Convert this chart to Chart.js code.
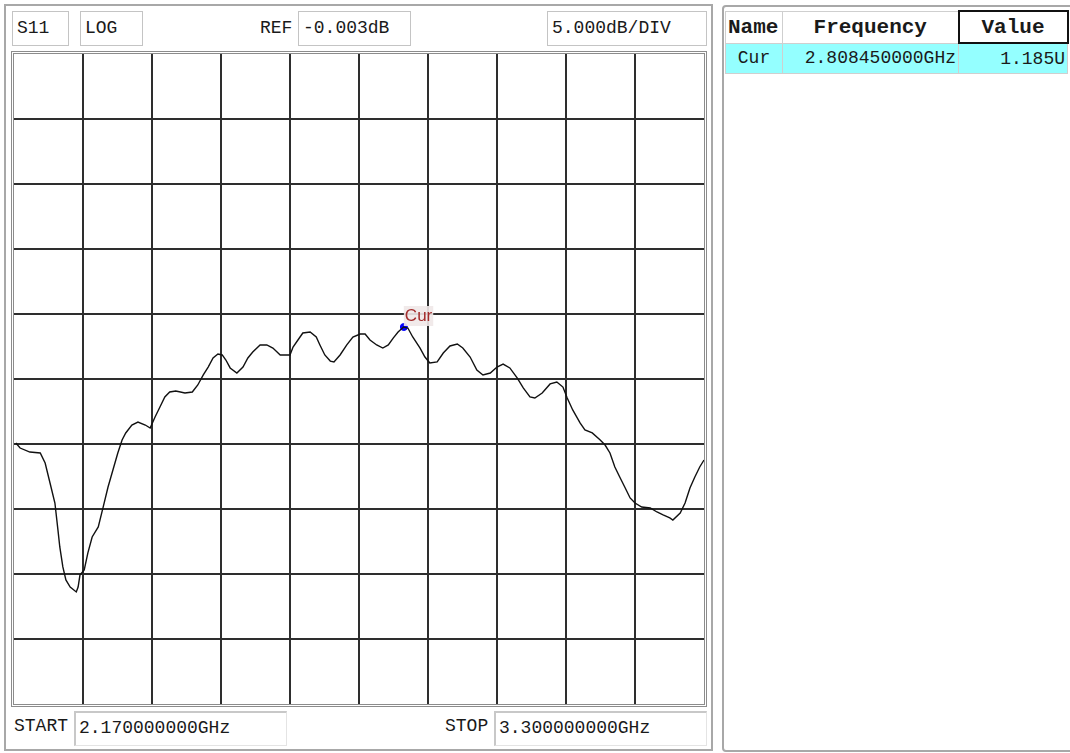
<!DOCTYPE html>
<html lang="en">
<head>
    <meta charset="UTF-8">
    <title>S11 LOG</title>
    <script src="https://cdn.jsdelivr.net/npm/chart.js"></script>
    <style>
        body {
            margin: 0;
            width: 1070px;
            height: 753px;
            position: relative;
            background: #fff;
            font-family: "Liberation Mono", monospace;
            color: #1a1a1a;
            overflow: hidden;
        }
        .abs { position: absolute; }
        .panel {
            left: 4px; top: 4px; width: 709px; height: 747px;
            border: 2px solid #a8a8a8;
            box-sizing: border-box;
        }
        .rpanel {
            left: 722px; top: 5px; width: 360px; height: 747px;
            border: 2px solid #a8a8a8;
            border-radius: 4px;
            box-sizing: border-box;
        }
        .box {
            border: 1px solid #c4c4c4;
            box-sizing: border-box;
            font-size: 18px;
            line-height: 33px;
            padding-left: 4px;
            white-space: nowrap;
        }
        .inbox {
            border-top: 2px solid #c8c8c8;
            border-left: 2px solid #c8c8c8;
            border-right: 1px solid #e4e4e4;
            border-bottom: 1px solid #e4e4e4;
            box-sizing: border-box;
            font-size: 18px;
            line-height: 31px;
            padding-left: 3px;
            white-space: nowrap;
        }
        .lbl { font-size: 18px; line-height: 20px; }
        .frame {
            left: 11px; top: 51px; width: 696px; height: 656px;
            border: 3px double #8c8c8c;
            box-sizing: border-box;
        }
        #chart { left: 14px; top: 54px; }
        table {
            position: absolute; left: 725px; top: 10px;
            border-collapse: collapse;
            table-layout: fixed;
        }
        td {
            border: 1px solid #cfcfcf;
            padding: 0 2px;
            white-space: nowrap;
            overflow: hidden;
        }
        tr.head td { height: 30px; font-weight: bold; font-size: 21px; }
        tr.row td { height: 29px; font-size: 18px; background: #94ffff; }
        td.sel { border: 2px solid #111; }
    </style>
</head>
<body>
    <div class="abs panel"></div>
    <div class="abs rpanel"></div>

    <div class="abs box" style="left:12px;top:11px;width:57px;height:35px;">S11</div>
    <div class="abs box" style="left:80px;top:11px;width:63px;height:35px;">LOG</div>
    <div class="abs lbl" style="left:260px;top:18px;">REF</div>
    <div class="abs box" id="refBox" style="left:298px;top:11px;width:113px;height:35px;"></div>
    <div class="abs box" id="divBox" style="left:547px;top:11px;width:160px;height:35px;"></div>

    <div class="abs frame"></div>
    <canvas id="chart" class="abs" width="690" height="650"></canvas>

    <div class="abs lbl" style="left:14px;top:716px;">START</div>
    <div class="abs inbox" id="startBox" style="left:74px;top:711px;width:213px;height:35px;"></div>
    <div class="abs lbl" style="left:445px;top:716px;">STOP</div>
    <div class="abs inbox" id="stopBox" style="left:494px;top:711px;width:213px;height:35px;"></div>

    <table>
        <colgroup><col style="width:57px"><col style="width:176px"><col style="width:109px"></colgroup>
        <tr class="head">
            <td style="text-align:left;">Name</td>
            <td style="text-align:center;">Frequency</td>
            <td class="sel" style="text-align:center;">Value</td>
        </tr>
        <tr class="row">
            <td style="text-align:center;" id="mName"></td>
            <td style="text-align:right;" id="mFreq"></td>
            <td style="text-align:right;" id="mVal"></td>
        </tr>
    </table>

    <script>
        // sweep settings
        const startGHz = 2.17;
        const stopGHz = 3.30;
        const refLevel = -0.003;   // dB, top of the grid
        const dbPerDiv = 5;
        const divisions = 10;

        // labels shown around the plot
        const startLabel = '2.170000000GHz';
        const stopLabel = '3.300000000GHz';
        const refLabel = '-0.003dB';
        const scaleLabel = '5.000dB/DIV';

        // S11 trace, frequency (GHz) and magnitude (dB)
        const freqGHz = [
            2.173, 2.180, 2.196, 2.213, 2.221, 2.229, 2.237, 2.242, 2.245, 2.250,
            2.255, 2.262, 2.272, 2.275, 2.278, 2.285, 2.291, 2.298, 2.308, 2.316,
            2.324, 2.332, 2.340, 2.347, 2.353, 2.363, 2.373, 2.385, 2.393, 2.401,
            2.409, 2.417, 2.425, 2.435, 2.450, 2.462, 2.471, 2.480, 2.488, 2.496,
            2.504, 2.511, 2.517, 2.524, 2.535, 2.545, 2.553, 2.561, 2.573, 2.584,
            2.594, 2.606, 2.622, 2.627, 2.635, 2.643, 2.655, 2.665, 2.671, 2.679,
            2.688, 2.694, 2.704, 2.715, 2.725, 2.737, 2.745, 2.753, 2.764, 2.774,
            2.783, 2.791, 2.799, 2.808, 2.815, 2.823, 2.835, 2.843, 2.851, 2.863,
            2.873, 2.884, 2.896, 2.905, 2.917, 2.928, 2.938, 2.950, 2.961, 2.971,
            2.982, 2.994, 3.004, 3.015, 3.023, 3.035, 3.048, 3.059, 3.069, 3.076,
            3.085, 3.097, 3.105, 3.117, 3.130, 3.138, 3.146, 3.154, 3.162, 3.171,
            3.179, 3.187, 3.198, 3.212, 3.223, 3.233, 3.244, 3.249, 3.261, 3.269,
            3.277, 3.285, 3.293, 3.300
        ];
        const s11dB = [
            -29.92, -30.31, -30.62, -30.69, -31.46, -33.00, -34.54, -36.62, -37.92, -39.46,
            -40.46, -41.00, -41.38, -41.00, -40.08, -39.69, -38.38, -37.15, -36.38, -34.85,
            -33.31, -32.00, -30.69, -29.69, -29.15, -28.54, -28.31, -28.54, -28.77, -27.92,
            -27.15, -26.38, -26.00, -25.92, -26.08, -26.00, -25.46, -24.69, -24.08, -23.38,
            -23.08, -23.15, -23.54, -24.15, -24.54, -24.08, -23.38, -22.92, -22.38, -22.38,
            -22.62, -23.15, -23.15, -22.54, -22.00, -21.46, -21.38, -21.77, -22.38, -23.15,
            -23.62, -23.69, -23.15, -22.38, -21.77, -21.54, -21.54, -22.00, -22.38, -22.62,
            -22.38, -21.85, -21.38, -21.00, -21.08, -21.77, -22.62, -23.31, -23.77, -23.69,
            -23.00, -22.46, -22.31, -22.62, -23.31, -24.31, -24.69, -24.54, -24.08, -23.85,
            -24.15, -24.92, -25.69, -26.38, -26.46, -26.08, -25.38, -25.23, -25.62, -26.46,
            -27.38, -28.38, -28.92, -29.15, -29.69, -30.08, -30.69, -31.77, -32.54, -33.38,
            -34.15, -34.54, -34.85, -34.92, -35.23, -35.46, -35.69, -35.85, -35.31, -34.54,
            -33.38, -32.54, -31.77, -31.23
        ];

        // marker
        const markerNames = ['Cur'];
        const markerFreqGHz = [2.80845];
        const markerDb = [-21.0];
        const markerFreqLabels = ['2.808450000GHz'];
        const markerValueLabels = ['1.185U'];

        document.getElementById('refBox').textContent = refLabel;
        document.getElementById('divBox').textContent = scaleLabel;
        document.getElementById('startBox').textContent = startLabel;
        document.getElementById('stopBox').textContent = stopLabel;
        document.getElementById('mName').textContent = markerNames[0];
        document.getElementById('mFreq').textContent = markerFreqLabels[0];
        document.getElementById('mVal').textContent = markerValueLabels[0];

        // draws the "Cur" tag next to the marker point
        const markerTag = {
            id: 'markerTag',
            afterDatasetsDraw(chart) {
                const meta = chart.getDatasetMeta(1);
                const ctx = chart.ctx;
                ctx.save();
                ctx.font = '17px "Liberation Sans", Arial, sans-serif';
                ctx.textBaseline = 'bottom';
                meta.data.forEach((pt, i) => {
                    const text = markerNames[i];
                    const w = ctx.measureText(text).width;
                    const x = pt.x + 1;
                    const y = pt.y - 2;
                    ctx.fillStyle = 'rgba(240,232,232,0.9)';
                    ctx.fillRect(x - 1, y - 19, w + 2, 20);
                    ctx.fillStyle = '#a32c2c';
                    ctx.fillText(text, x, y);
                });
                ctx.restore();
            }
        };

        const gridColor = c => (c.index === 0 || c.index === divisions) ? 'rgba(0,0,0,0)' : '#2e2e2e';

        new Chart(document.getElementById('chart'), {
            type: 'line',
            data: {
                datasets: [{
                    data: freqGHz.map((f, i) => ({ x: f, y: s11dB[i] })),
                    borderColor: '#111',
                    borderWidth: 1.4,
                    pointRadius: 0,
                    tension: 0
                }, {
                    data: markerFreqGHz.map((f, i) => ({ x: f, y: markerDb[i] })),
                    showLine: false,
                    pointRadius: 3.5,
                    pointBackgroundColor: '#0000ff',
                    pointBorderColor: '#0000ff'
                }]
            },
            options: {
                responsive: false,
                animation: false,
                layout: { padding: 0, autoPadding: false },
                plugins: { legend: { display: false }, tooltip: { enabled: false } },
                scales: {
                    x: {
                        type: 'linear',
                        min: startGHz,
                        max: stopGHz,
                        ticks: { display: false, stepSize: (stopGHz - startGHz) / divisions, padding: 0 },
                        grid: { color: gridColor, lineWidth: 2, drawTicks: false, tickLength: 0 },
                        border: { display: false }
                    },
                    y: {
                        min: -dbPerDiv * divisions,
                        max: 0,
                        ticks: { display: false, stepSize: dbPerDiv, padding: 0 },
                        grid: { color: gridColor, lineWidth: 2, drawTicks: false, tickLength: 0 },
                        border: { display: false }
                    }
                }
            },
            plugins: [markerTag]
        });
    </script>
</body>
</html>
